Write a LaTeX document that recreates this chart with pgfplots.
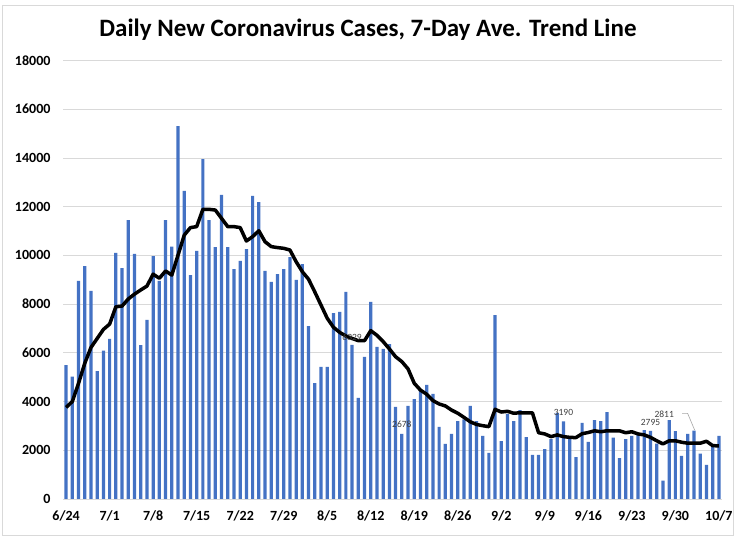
\documentclass[border=0pt]{standalone}
\usepackage{pgfplots}
\pgfplotsset{compat=1.18}
\usepackage{pgfplotstable}
\usepackage{fontspec}
\setmainfont{Carlito}
\definecolor{barblue}{HTML}{4472C4}
\definecolor{gridgray}{HTML}{D9D9D9}
\definecolor{lblgray}{HTML}{404040}

\pgfplotstableread{
x y
0 5500
1 5020
2 8950
3 9560
4 8540
5 5250
6 6090
7 6570
8 10100
9 9480
10 11450
11 10060
12 6320
13 7350
14 9970
15 8950
16 11450
17 10360
18 15310
19 12650
20 9190
21 10180
22 13950
23 11450
24 10340
25 12480
26 10340
27 9440
28 9770
29 10260
30 12440
31 12190
32 9360
33 8910
34 9230
35 9440
36 9930
37 8990
38 9640
39 7100
40 4760
41 5420
42 5420
43 7630
44 7680
45 8500
46 6329
47 4150
48 5830
49 8090
50 6240
51 6160
52 6360
53 3780
54 2678
55 3820
56 4100
57 4470
58 4680
59 4310
60 2960
61 2260
62 2670
63 3200
64 3270
65 3820
66 3200
67 2590
68 1890
69 7550
70 2380
71 3490
72 3200
73 3650
74 2540
75 1810
76 1810
77 2050
78 2460
79 3530
80 3190
81 2460
82 1720
83 3120
84 2340
85 3240
86 3200
87 3570
88 2520
89 1680
90 2460
91 2590
92 2670
93 2830
94 2795
95 2270
96 750
97 3240
98 2790
99 1770
100 2670
101 2811
102 1860
103 1400
104 2220
105 2590
}\bars

\pgfplotstableread{
x y
0 3760
1 4000
2 4750
3 5570
4 6220
5 6590
6 6960
7 7180
8 7890
9 7920
10 8210
11 8410
12 8580
13 8740
14 9230
15 9060
16 9360
17 9190
18 10010
19 10830
20 11140
21 11180
22 11890
23 11890
24 11860
25 11520
26 11180
27 11180
28 11140
29 10590
30 10770
31 11010
32 10560
33 10360
34 10320
35 10290
36 10220
37 9740
38 9330
39 9020
40 8500
41 7960
42 7420
43 7050
44 6840
45 6690
46 6590
47 6500
48 6500
49 6910
50 6720
51 6460
52 6160
53 5840
54 5640
55 5340
56 4750
57 4470
58 4300
59 4040
60 3900
61 3820
62 3650
63 3520
64 3350
65 3170
66 3060
67 3010
68 2970
69 3680
70 3570
71 3600
72 3520
73 3540
74 3540
75 3540
76 2720
77 2670
78 2560
79 2630
80 2560
81 2530
82 2520
83 2680
84 2730
85 2800
86 2760
87 2800
88 2800
89 2800
90 2720
91 2760
92 2670
93 2630
94 2530
95 2390
96 2260
97 2390
98 2390
99 2330
100 2290
101 2290
102 2290
103 2370
104 2190
105 2180
}\avg

\begin{document}
\begin{tikzpicture}[x=1pt,y=1pt]
\path[fill=white] (0,0) rectangle (745,540);
\draw[gridgray, line width=0.8pt] (2,5) rectangle (733,535);
\node[font=\fontsize{25}{30}\selectfont\bfseries] at (368,510) {Daily New Coronavirus Cases, 7-Day Ave. Trend Line};
\begin{axis}[
  at={(63pt,41pt)}, anchor=south west,
  scale only axis, width=659pt, height=438.5pt,
  xmin=-0.5, xmax=105.5, ymin=0, ymax=18000,
  enlargelimits=false,
  axis x line*=bottom, axis y line*=left,
  x axis line style={draw=gridgray, line width=0.8pt},
  y axis line style={draw=none},
  major tick length=0pt,
  ymajorgrids, grid style={draw=gridgray, line width=0.8pt},
  xtick={0,7,...,105},
  xticklabels={6/24,7/1,7/8,7/15,7/22,7/29,8/5,8/12,8/19,8/26,9/2,9/9,9/16,9/23,9/30,10/7},
  ytick={0,2000,...,18000},
  scaled y ticks=false,
  yticklabel style={/pgf/number format/fixed, /pgf/number format/1000 sep={}, /pgf/number format/assume math mode=true, xshift=-9pt},
  ticklabel style={font=\fontsize{14}{16}\selectfont\bfseries},
  xticklabel style={yshift=-8pt},
  clip=false,
]
\addplot[ybar, bar width=0.52, fill=barblue, draw=none] table[x=x,y=y]{\bars};
\addplot[black, line width=3.5pt, line join=round, mark=none] table[x=x,y=y]{\avg};
\node[font=\fontsize{9.5}{11}\selectfont, text=lblgray, anchor=south, inner sep=1pt, yshift=3pt] at (axis cs:46,6329) {6329};
\node[font=\fontsize{9.5}{11}\selectfont, text=lblgray, anchor=south, inner sep=1pt, yshift=5pt] at (axis cs:54,2678) {2678};
\node[font=\fontsize{9.5}{11}\selectfont, text=lblgray, anchor=south, inner sep=1pt, yshift=5pt] at (axis cs:80,3190) {3190};
\node[font=\fontsize{9.5}{11}\selectfont, text=lblgray, anchor=south, inner sep=1pt, yshift=4pt] at (axis cs:94,2795) {2795};
\node[font=\fontsize{9.5}{11}\selectfont, text=lblgray, inner sep=1pt] at (axis cs:96.2,3459) {2811};
\draw[gray!70, line width=0.6pt] (axis cs:99.07,3516) -- (axis cs:99.97,3516) -- (axis cs:101.1,2831);
\end{axis}
\end{tikzpicture}
\end{document}
